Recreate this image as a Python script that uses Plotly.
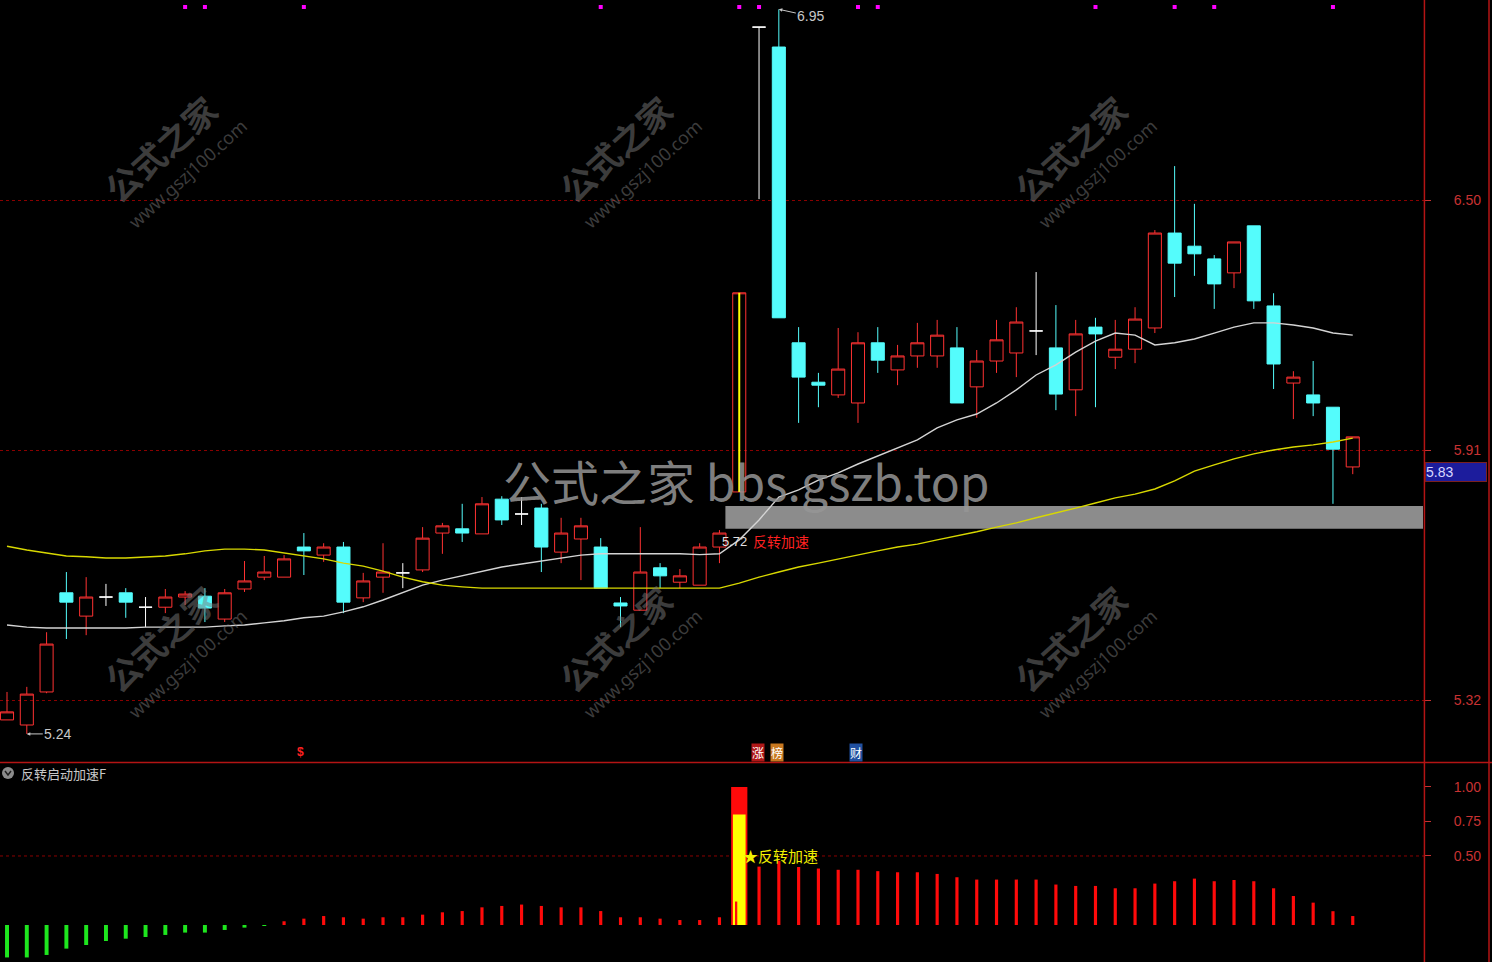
import plotly.graph_objects as go

# ---------------- data ----------------
OPEN = [5.273, 5.261, 5.339, 5.573, 5.518, 5.563, 5.573, 5.539, 5.539, 5.563,
        5.565, 5.511, 5.582, 5.610, 5.610, 5.681, 5.662, 5.681, 5.561, 5.610,
        5.620, 5.627, 5.714, 5.724, 5.712, 5.794, 5.759, 5.773, 5.669, 5.700,
        5.681, 5.549, 5.532, 5.632, 5.598, 5.591, 5.681, 5.811, 6.908, 6.861,
        6.163, 6.070, 6.040, 6.021, 6.163, 6.099, 6.132, 6.132, 6.151, 6.059,
        6.120, 6.139, 6.191, 6.151, 6.052, 6.200, 6.129, 6.148, 6.198, 6.422,
        6.391, 6.361, 6.328, 6.439, 6.250, 6.068, 6.040, 6.011, 5.870]
HIGH = [5.339, 5.351, 5.480, 5.622, 5.610, 5.594, 5.584, 5.563, 5.582, 5.577,
        5.584, 5.582, 5.648, 5.660, 5.662, 5.714, 5.690, 5.693, 5.620, 5.690,
        5.643, 5.728, 5.738, 5.783, 5.799, 5.801, 5.799, 5.783, 5.750, 5.750,
        5.702, 5.563, 5.728, 5.643, 5.629, 5.690, 5.721, 6.281, 6.908, 6.950,
        6.200, 6.092, 6.198, 6.188, 6.200, 6.158, 6.210, 6.217, 6.200, 6.146,
        6.217, 6.247, 6.330, 6.252, 6.217, 6.222, 6.217, 6.247, 6.429, 6.580,
        6.491, 6.370, 6.401, 6.439, 6.280, 6.096, 6.120, 6.011, 5.941]
LOW = [5.273, 5.240, 5.336, 5.464, 5.473, 5.542, 5.514, 5.492, 5.525, 5.544,
       5.504, 5.504, 5.575, 5.603, 5.610, 5.615, 5.646, 5.525, 5.551, 5.573,
       5.584, 5.622, 5.665, 5.693, 5.712, 5.733, 5.733, 5.622, 5.643, 5.603,
       5.584, 5.492, 5.532, 5.584, 5.584, 5.591, 5.643, 5.811, 6.502, 6.222,
       5.974, 6.011, 6.033, 5.974, 6.092, 6.063, 6.104, 6.104, 6.021, 5.986,
       6.092, 6.082, 6.134, 6.004, 5.990, 6.011, 6.101, 6.115, 6.186, 6.271,
       6.321, 6.243, 6.292, 6.243, 6.054, 5.983, 5.990, 5.783, 5.853]
CLOSE = [5.292, 5.334, 5.452, 5.551, 5.563, 5.563, 5.551, 5.539, 5.563, 5.570,
         5.537, 5.573, 5.601, 5.622, 5.653, 5.672, 5.681, 5.551, 5.601, 5.622,
         5.620, 5.702, 5.731, 5.714, 5.783, 5.745, 5.759, 5.681, 5.714, 5.731,
         5.584, 5.542, 5.622, 5.613, 5.613, 5.681, 5.714, 6.281, 6.908, 6.222,
         6.082, 6.063, 6.101, 6.163, 6.122, 6.132, 6.163, 6.181, 6.021, 6.120,
         6.170, 6.212, 6.191, 6.042, 6.184, 6.184, 6.148, 6.219, 6.422, 6.351,
         6.373, 6.302, 6.401, 6.262, 6.113, 6.082, 6.021, 5.912, 5.941]

MA_WHITE = [5.497, 5.492, 5.490, 5.490, 5.490, 5.490, 5.490, 5.492, 5.492, 5.492,
            5.492, 5.495, 5.497, 5.502, 5.507, 5.514, 5.518, 5.528, 5.540, 5.556,
            5.573, 5.591, 5.603, 5.613, 5.624, 5.634, 5.641, 5.648, 5.655, 5.662,
            5.665, 5.665, 5.665, 5.665, 5.665, 5.663, 5.665, 5.698, 5.745, 5.799,
            5.816, 5.839, 5.856, 5.877, 5.896, 5.915, 5.934, 5.962, 5.981, 5.995,
            6.021, 6.052, 6.087, 6.111, 6.141, 6.167, 6.186, 6.181, 6.158, 6.163,
            6.172, 6.186, 6.200, 6.210, 6.210, 6.205, 6.198, 6.186, 6.181]
MA_YELLOW = [5.683, 5.674, 5.667, 5.660, 5.658, 5.655, 5.655, 5.658, 5.660, 5.665,
             5.672, 5.676, 5.676, 5.674, 5.667, 5.660, 5.653, 5.643, 5.636, 5.624,
             5.610, 5.599, 5.591, 5.587, 5.584, 5.584, 5.584, 5.584, 5.584, 5.584,
             5.584, 5.584, 5.584, 5.584, 5.584, 5.584, 5.584, 5.596, 5.610, 5.622,
             5.634, 5.643, 5.653, 5.662, 5.672, 5.681, 5.688, 5.698, 5.707, 5.717,
             5.728, 5.738, 5.750, 5.761, 5.773, 5.785, 5.797, 5.806, 5.818, 5.837,
             5.860, 5.875, 5.889, 5.901, 5.910, 5.917, 5.922, 5.929, 5.938]

# lower indicator "反转启动加速F"
IND = [-0.235, -0.235, -0.217, -0.171, -0.145, -0.116, -0.099, -0.087, -0.072, -0.055,
       -0.055, -0.036, -0.019, -0.005, 0.027, 0.046, 0.065, 0.056, 0.046, 0.056,
       0.056, 0.075, 0.092, 0.101, 0.128, 0.138, 0.148, 0.138, 0.128, 0.128,
       0.101, 0.056, 0.056, 0.046, 0.036, 0.036, 0.056, 1.000, 0.423, 0.464,
       0.420, 0.409, 0.400, 0.400, 0.390, 0.382, 0.382, 0.370, 0.346, 0.329,
       0.329, 0.329, 0.329, 0.293, 0.283, 0.283, 0.266, 0.266, 0.300, 0.317,
       0.336, 0.317, 0.326, 0.317, 0.266, 0.210, 0.162, 0.100, 0.065]
SIGNAL_BAR = 37          # 反转加速 signal candle
SIGNAL_YELLOW = 0.80
SIGNAL_INNER = 0.17

TOP_DOTS = [9, 10, 15, 30, 37, 38, 43, 44, 55, 59, 61, 67]
ZONE_LOW, ZONE_HIGH, ZONE_START = 5.724, 5.778, 36.3

PRICE_TICKS = [5.32, 5.91, 6.50]
IND_TICKS = [0.50, 0.75, 1.00]
CURRENT_LABEL = ("5.83", 5.858)

# ---------------- geometry ----------------
W, H = 1492, 962
PLOT_W = 1424
X_RANGE = [-0.354, 71.6]
Y_RANGE = [5.1737, 6.972]
Y2_RANGE = [-0.268, 1.159]


def pxx(x):
    return x / PLOT_W


def pxy(y):
    return 1 - y / H


N = len(OPEN)
X = list(range(N))

RED = "#ff3232"
CYAN = "#54fcfc"
AXRED = "#c83232"
GRID = "#8a0000"

fig = go.Figure()

# moving averages (below candles)
fig.add_trace(go.Scatter(x=X, y=MA_WHITE, mode="lines", line=dict(color="#d4d4d4", width=1.4),
                         hoverinfo="skip", showlegend=False))
fig.add_trace(go.Scatter(x=X, y=MA_YELLOW, mode="lines", line=dict(color="#d8d800", width=1.4),
                         hoverinfo="skip", showlegend=False))


def candle_trace(cond, inc_line, inc_fill, dec_line, dec_fill):
    idx = [i for i in X if cond(OPEN[i], CLOSE[i])]
    return go.Candlestick(
        x=idx, open=[OPEN[i] for i in idx], high=[HIGH[i] for i in idx],
        low=[LOW[i] for i in idx], close=[CLOSE[i] for i in idx],
        increasing=dict(line=dict(color=inc_line, width=1), fillcolor=inc_fill),
        decreasing=dict(line=dict(color=dec_line, width=1), fillcolor=dec_fill),
        whiskerwidth=0, hoverinfo="skip", showlegend=False)


fig.add_trace(candle_trace(lambda o, c: c > o, RED, "rgba(0,0,0,0)", RED, "rgba(0,0,0,0)"))
fig.add_trace(candle_trace(lambda o, c: c < o, CYAN, CYAN, CYAN, CYAN))
fig.add_trace(candle_trace(lambda o, c: c == o, "#ffffff", "#ffffff", "#ffffff", "#ffffff"))

# yellow marker line inside the limit-up candle
fig.add_trace(go.Scatter(x=[SIGNAL_BAR, SIGNAL_BAR], y=[OPEN[SIGNAL_BAR], CLOSE[SIGNAL_BAR]],
                         mode="lines", line=dict(color="#ffff00", width=2),
                         hoverinfo="skip", showlegend=False))

# top magenta signal dots
sig_level = Y_RANGE[1] - 7 / 423.73
fig.add_trace(go.Scatter(x=TOP_DOTS, y=[sig_level] * len(TOP_DOTS), mode="markers",
                         marker=dict(symbol="square", size=4, color="#ff00ff"),
                         cliponaxis=False, hoverinfo="skip", showlegend=False))

# lower indicator bars
bar_colors = ["#1ee61e" if v < 0 else "#ff0a0a" for v in IND]
bar_widths = [0.82 if i == SIGNAL_BAR else (0.2 if IND[i] < 0 else 0.16) for i in X]
fig.add_trace(go.Bar(x=X, y=IND, marker=dict(color=bar_colors, line=dict(width=0)),
                     width=bar_widths, xaxis="x2", yaxis="y2",
                     hoverinfo="skip", showlegend=False))
fig.add_trace(go.Bar(x=[SIGNAL_BAR], y=[SIGNAL_YELLOW], marker=dict(color="#ffff00", line=dict(width=0)),
                     width=[0.64], xaxis="x2", yaxis="y2", hoverinfo="skip", showlegend=False))
fig.add_trace(go.Bar(x=[SIGNAL_BAR - 0.15], y=[SIGNAL_INNER], marker=dict(color="#ff0a0a", line=dict(width=0)),
                     width=[0.1], xaxis="x2", yaxis="y2", hoverinfo="skip", showlegend=False))

shapes = [
    # support zone
    dict(type="rect", xref="x", yref="y", x0=ZONE_START, x1=X_RANGE[1] - 0.05,
         y0=ZONE_LOW, y1=ZONE_HIGH, fillcolor="#8c8c8c", line=dict(width=0), layer="between"),
    # 0.50 dotted line in lower panel
    dict(type="line", xref="x2 domain", yref="y2", x0=0, x1=1, y0=0.5, y1=0.5,
         line=dict(color=GRID, width=1, dash="dot"), layer="below"),
    # frame lines
    dict(type="line", xref="paper", yref="paper", x0=0, x1=W / PLOT_W, y0=pxy(762.5), y1=pxy(762.5),
         line=dict(color="#b41414", width=1.5)),
    dict(type="line", xref="paper", yref="paper", x0=1.0003, x1=1.0003, y0=0, y1=1,
         line=dict(color="#b41414", width=1.5)),
    dict(type="line", xref="paper", yref="paper", x0=pxx(1489), x1=pxx(1489), y0=0, y1=1,
         line=dict(color="#b41414", width=1.5)),
    # panel-title icon
    dict(type="circle", xref="paper", yref="paper", x0=pxx(2), x1=pxx(14), y0=pxy(779), y1=pxy(767),
         fillcolor="#8c8c8c", line=dict(width=0)),
    dict(type="path", xref="paper", yref="paper",
         path=f"M {pxx(5)},{pxy(771)} L {pxx(8)},{pxy(775)} L {pxx(11)},{pxy(771)}",
         line=dict(color="#202020", width=1.5)),
]

ann = []
# watermarks
for cx, cy in [(160, 148), (615, 148), (1070, 148), (160, 638), (615, 638), (1070, 638)]:
    ann.append(dict(xref="paper", yref="paper", x=pxx(cx), y=pxy(cy), text="<b>公式之家</b>",
                    showarrow=False, textangle=-42, xanchor="center", yanchor="middle",
                    font=dict(family="Noto Sans CJK SC", size=34, color="rgba(120,120,120,0.5)")))
    ann.append(dict(xref="paper", yref="paper", x=pxx(cx + 27), y=pxy(cy + 26), text="www.gszj100.com",
                    showarrow=False, textangle=-42, xanchor="center", yanchor="middle",
                    font=dict(family="Noto Sans", size=18, color="rgba(120,120,120,0.5)")))
ann.append(dict(xref="paper", yref="paper", x=pxx(746), y=pxy(480), text="公式之家 bbs.gszb.top",
                showarrow=False, xanchor="center", yanchor="middle",
                font=dict(family="Noto Sans CJK SC", size=48, color="rgba(150,150,150,0.85)")))

# price labels
ann.append(dict(x=39, y=HIGH[39], xref="x", yref="y", text="6.95", showarrow=True,
                arrowhead=2, arrowsize=0.7, arrowwidth=1, arrowcolor="#c8c8c8", ax=32, ay=7,
                font=dict(family="Liberation Sans", size=14, color="#c8c8c8")))
low_i = LOW.index(min(LOW))
ann.append(dict(x=low_i, y=LOW[low_i], xref="x", yref="y", text="5.24", showarrow=True,
                arrowhead=2, arrowsize=0.7, arrowwidth=1, arrowcolor="#c8c8c8", ax=31, ay=0,
                font=dict(family="Liberation Sans", size=14, color="#c8c8c8")))
ann.append(dict(x=37.5, y=5.695, xref="x", yref="y", text="5.72", showarrow=False, xanchor="right",
                font=dict(family="Liberation Sans", size=13, color="#e0e0e0")))
ann.append(dict(x=37.6, y=5.695, xref="x", yref="y", text="反转加速", showarrow=False, xanchor="left",
                font=dict(family="Noto Sans CJK SC", size=14, color="#ff2020")))

# event markers under the candles
mark_y = Y_RANGE[1] - 752 / 423.73
ann.append(dict(x=14.85, y=mark_y, xref="x", yref="y", text="<b>$</b>", showarrow=False,
                font=dict(family="Liberation Sans", size=12, color="#ff2020")))
for xi, t, bg in [(37.95, "涨", "#b01818"), (38.9, "榜", "#c87820"), (42.9, "财", "#2050a0")]:
    ann.append(dict(x=xi, y=mark_y, xref="x", yref="y", text=t, showarrow=False, bgcolor=bg,
                    borderpad=0, font=dict(family="Noto Sans CJK SC", size=12, color="#ffffff")))

# current price box
ann.append(dict(xref="paper", yref="y", x=1.001, y=CURRENT_LABEL[1], xanchor="left",
                text=CURRENT_LABEL[0], showarrow=False, bgcolor="#1c1c9c", bordercolor="#7a2020",
                borderwidth=1, borderpad=0, width=60, height=18, align="left",
                font=dict(family="Liberation Sans", size=14, color="#d8d8ff")))

# lower panel texts
ann.append(dict(x=37.1, y=0.50, xref="x2", yref="y2", text="★反转加速", showarrow=False, xanchor="left",
                font=dict(family="Noto Sans CJK SC", size=15, color="#f0f000")))
ann.append(dict(xref="paper", yref="paper", x=pxx(19), y=pxy(773), text="反转启动加速F", showarrow=False,
                xanchor="left", yanchor="middle",
                font=dict(family="Noto Sans CJK SC", size=13, color="#c8c8c8")))

axis_font = dict(family="Liberation Sans", size=14, color=AXRED)

fig.update_layout(
    width=W, height=H, margin=dict(l=0, r=W - PLOT_W, t=0, b=0),
    paper_bgcolor="#000000", plot_bgcolor="#000000",
    boxgap=0.34, boxgroupgap=0, barmode="overlay", showlegend=False,
    xaxis=dict(range=X_RANGE, domain=[0, 1], visible=False, rangeslider=dict(visible=False),
               anchor="y"),
    xaxis2=dict(range=X_RANGE, domain=[0, 1], visible=False, anchor="y2"),
    yaxis=dict(range=Y_RANGE, domain=[200 / H, 1], side="right", anchor="x",
               tickvals=PRICE_TICKS, ticktext=[f"{v:.2f}" for v in PRICE_TICKS],
               showgrid=True, gridcolor=GRID, griddash="dot", gridwidth=1,
               ticks="outside", ticklen=6, tickcolor=AXRED, ticklabelstandoff=20,
               zeroline=False, showline=False, tickfont=axis_font),
    yaxis2=dict(range=Y2_RANGE, domain=[0, 197 / H], side="right", anchor="x2",
                tickvals=IND_TICKS, ticktext=[f"{v:.2f}" for v in IND_TICKS],
                showgrid=False, ticks="outside", ticklen=6, tickcolor=AXRED, ticklabelstandoff=20,
                zeroline=False, showline=False, tickfont=axis_font),
    shapes=shapes, annotations=ann,
)

fig.write_html("out.html", config={"displayModeBar": False},
               post_script="document.body.style.margin='0';document.body.style.overflow='hidden';")
